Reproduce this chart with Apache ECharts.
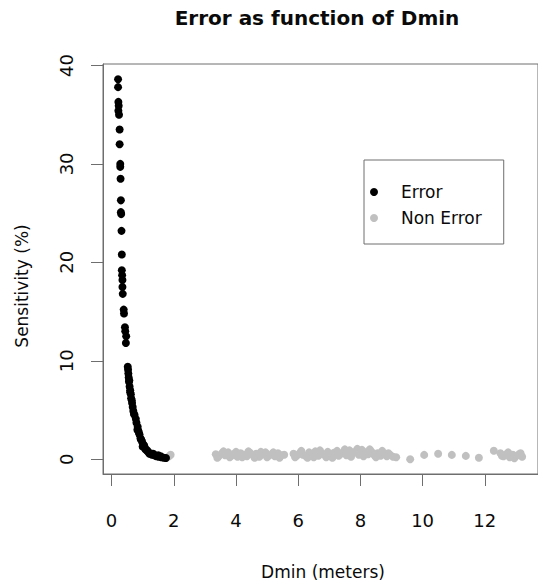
<!DOCTYPE html>
<html>
<head>
<meta charset="utf-8">
<script src="https://cdn.jsdelivr.net/npm/echarts@6/dist/echarts.min.js"></script>
<style>
html,body{margin:0;padding:0;background:#fff;}
#chart{width:538px;height:587px;}
</style>
</head>
<body>
<div id="chart"></div>
<script>
// ---- Data ----
const xTicks = [0, 2, 4, 6, 8, 10, 12];
const yTicks = [0, 10, 20, 30, 40];

const errorX = [0.21, 0.21, 0.22, 0.23, 0.22, 0.24, 0.26, 0.26, 0.28, 0.28, 0.29, 0.30, 0.30, 0.31, 0.32, 0.33,
  0.33, 0.34, 0.35, 0.35, 0.36, 0.39, 0.40, 0.43, 0.44, 0.47, 0.46,
  0.52, 0.53, 0.54, 0.55, 0.56, 0.58, 0.60, 0.60, 0.62, 0.63, 0.66, 0.68, 0.70, 0.74, 0.78, 0.80, 0.84, 0.86,
  0.90, 0.93, 0.95, 0.98, 1.02, 1.08, 1.10, 1.12, 1.18, 1.22, 1.30, 1.38, 1.45, 1.52, 1.60, 1.68, 1.75,
  0.57, 0.65, 0.72, 0.83, 0.88, 1.00, 1.05, 1.15, 1.25, 1.34, 1.42, 1.50, 1.58];
const errorY = [38.6, 37.8, 36.3, 35.9, 35.4, 35.0, 33.5, 32.0, 30.0, 29.7, 28.5, 26.3, 25.1, 24.9, 23.2, 20.8,
  19.2, 18.7, 18.2, 17.5, 16.8, 15.2, 14.8, 13.4, 13.0, 12.5, 11.8,
  9.4, 9.1, 8.7, 8.3, 7.9, 7.4, 7.0, 6.8, 6.6, 6.2, 5.7, 5.3, 4.9, 4.5, 4.1, 3.7, 3.3, 2.9,
  2.5, 2.1, 2.0, 1.8, 1.5, 1.1, 1.0, 0.9, 0.7, 0.55, 0.45, 0.4, 0.3, 0.25, 0.2, 0.15, 0.12,
  8.0, 6.0, 4.6, 3.0, 2.7, 1.3, 1.4, 0.9, 0.6, 0.55, 0.35, 0.4, 0.3];

const nonErrorX = [1.85, 1.9,
  3.35, 3.45, 3.55, 3.65, 3.75, 3.85, 3.95, 4.05, 4.15, 4.25, 4.35, 4.45, 4.55, 4.65, 4.75, 4.85, 4.95,
  5.05, 5.15, 5.25, 5.35, 5.45, 5.55,
  5.85, 5.95, 6.05, 6.15, 6.25, 6.35, 6.45, 6.55, 6.65, 6.75, 6.85, 6.95, 7.05, 7.15, 7.25, 7.35, 7.45,
  7.55, 7.65, 7.75, 7.85, 7.95, 8.05, 8.15, 8.25, 8.35, 8.45, 8.55, 8.65, 8.75, 8.85, 8.95, 9.05, 9.15,
  9.6, 10.05, 10.5, 10.94, 11.39, 11.81, 12.29, 12.5, 12.6, 12.7, 12.8, 12.9, 13.0, 13.1, 13.2,
  3.4, 3.6, 3.8, 4.0, 4.2, 4.4, 4.6, 4.8, 5.0, 5.2, 5.4, 5.9, 6.1, 6.3, 6.5, 6.7, 6.9, 7.1, 7.3, 7.5,
  7.7, 7.9, 8.1, 8.3, 8.5, 8.7, 8.9, 12.55, 12.75, 12.95, 13.15];
const nonErrorY = [0.3, 0.45,
  0.5, 0.3, 0.6, 0.4, 0.7, 0.35, 0.55, 0.25, 0.6, 0.45, 0.3, 0.65, 0.4, 0.55, 0.25, 0.5, 0.7,
  0.35, 0.5, 0.3, 0.6, 0.4, 0.45,
  0.55, 0.35, 0.6, 0.45, 0.3, 0.7, 0.5, 0.8, 0.35, 0.6, 0.45, 0.75, 0.3, 0.65, 0.85, 0.5, 0.7,
  0.4, 0.9, 0.6, 0.8, 0.45, 0.95, 0.7, 0.5, 0.8, 0.4, 0.6, 0.35, 0.55, 0.3, 0.45, 0.25, 0.2,
  0.0, 0.44, 0.55, 0.44, 0.34, 0.15, 0.87, 0.6, 0.3, 0.5, 0.2, 0.45, 0.3, 0.5, 0.25,
  0.15, 0.8, 0.2, 0.75, 0.2, 0.8, 0.15, 0.75, 0.2, 0.7, 0.15, 0.2, 0.85, 0.15, 0.2, 0.9, 0.2, 0.15, 0.35,
  1.0, 0.25, 1.05, 0.3, 1.0, 0.2, 0.85, 0.6, 0.35, 0.7, 0.1, 0.6];

const zip = (xs, ys) => xs.map((x, i) => [x, ys[i]]);

const FONT = 'DejaVu Sans';
const AXIS_COLOR = '#6e6e6e';
const TEXT_COLOR = '#0a0a0a';

const chart = echarts.init(document.getElementById('chart'), null, {renderer: 'svg'});
chart.setOption({
  animation: false,
  backgroundColor: '#fff',
  title: {
    text: 'Error as function of Dmin',
    left: 312, top: 3, textAlign: 'center',
    textStyle: {fontFamily: FONT, fontWeight: 'bold', fontSize: 20, color: TEXT_COLOR}
  },
  grid: {
    left: 103, top: 64, width: 442, height: 410,
    show: true, borderColor: AXIS_COLOR, borderWidth: 1, backgroundColor: 'transparent'
  },
  legend: {
    orient: 'vertical', left: 364, top: 160,
    padding: [23, 22, 17, 6], itemGap: 8,
    itemWidth: 22, itemHeight: 8, icon: 'circle',
    borderColor: AXIS_COLOR, borderWidth: 1,
    data: ['Error', 'Non Error'],
    textStyle: {fontFamily: FONT, fontSize: 17, color: TEXT_COLOR, lineHeight: 18, padding: [0, 0, 0, 11]}
  },
  xAxis: {
    type: 'value', min: -0.275, max: 13.71,
    splitLine: {show: false},
    axisLine: {show: true, onZero: false, lineStyle: {color: AXIS_COLOR}},
    axisTick: {show: true, length: 12, customValues: xTicks, lineStyle: {color: AXIS_COLOR}},
    axisLabel: {customValues: xTicks, margin: 37, fontFamily: FONT, fontSize: 18, color: TEXT_COLOR}
  },
  yAxis: {
    type: 'value', min: -1.5, max: 40.15,
    splitLine: {show: false},
    axisLine: {show: true, onZero: false, lineStyle: {color: AXIS_COLOR}},
    axisTick: {show: true, length: 12, customValues: yTicks, lineStyle: {color: AXIS_COLOR}},
    axisLabel: {customValues: yTicks, rotate: 90, margin: 28, fontFamily: FONT, fontSize: 18, color: TEXT_COLOR}
  },
  graphic: [
    {type: 'text', x: 323, y: 572,
     style: {text: 'Dmin (meters)', fontFamily: FONT, fontSize: 17, fill: TEXT_COLOR, textAlign: 'center', textVerticalAlign: 'middle'}},
    {type: 'text', x: 22, y: 286, rotation: Math.PI / 2,
     style: {text: 'Sensitivity (%)', fontFamily: FONT, fontSize: 17, fill: TEXT_COLOR, textAlign: 'center', textVerticalAlign: 'middle'}}
  ],
  series: [
    {name: 'Non Error', type: 'scatter', symbol: 'circle', symbolSize: 8,
     itemStyle: {color: '#c0c0c0', opacity: 1}, data: zip(nonErrorX, nonErrorY), z: 2},
    {name: 'Error', type: 'scatter', symbol: 'circle', symbolSize: 8,
     itemStyle: {color: '#000', opacity: 1}, data: zip(errorX, errorY), z: 3}
  ]
});
</script>
</body>
</html>
